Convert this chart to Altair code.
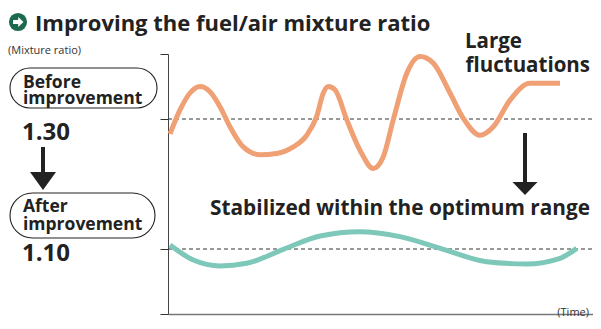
import altair as alt
import pandas as pd

# ---- data ----
before_time = [0.46, 2.78, 5.09, 7.41, 9.72, 12.04, 14.35, 17.43, 21.30, 25.16, 29.00, 32.11,
               34.42, 35.95, 37.11, 38.66, 41.37, 44.44, 47.52, 49.84, 52.15, 55.26, 58.33,
               61.41, 65.28, 68.36, 72.22, 75.30, 79.17, 83.80, 90.74]
before_ratio = [1.277, 1.314, 1.340, 1.350, 1.342, 1.319, 1.288, 1.257, 1.245, 1.247, 1.257, 1.275,
                1.304, 1.340, 1.350, 1.345, 1.299, 1.252, 1.224, 1.242, 1.299, 1.370, 1.396,
                1.386, 1.340, 1.301, 1.275, 1.288, 1.329, 1.355, 1.355]
after_time = [0.46, 5.86, 12.04, 18.22, 26.69, 35.19, 44.44, 53.70, 63.73, 73.77, 83.03, 90.74, 94.61]
after_ratio = [1.106, 1.083, 1.074, 1.078, 1.0995, 1.120, 1.1266, 1.119, 1.0995, 1.0805, 1.077,
               1.0857, 1.101]
reference_levels = [1.30, 1.10]
y_ticks = [1.0, 1.1, 1.3, 1.4]

title_text = "Improving the fuel/air mixture ratio"
y_title = "(Mixture ratio)"
x_title = "(Time)"
before_label = ["Before", "improvement"]
after_label = ["After", "improvement"]
before_value = "1.30"
after_value = "1.10"
large_label = ["Large", "fluctuations"]
stable_label = "Stabilized within the optimum range"

FONT = "Open Sans"
ORANGE = "#EFA074"
TEAL = "#7DC8B9"
DARK = "#222222"

W, H = 425, 260
xs = alt.Scale(domain=[0, 100], range=[0, 432])
ys = alt.Scale(domain=[1.0, 1.4])

before_df = pd.DataFrame({"t": before_time, "r": before_ratio})
after_df = pd.DataFrame({"t": after_time, "r": after_ratio})
ref_df = pd.DataFrame({"r": reference_levels})
one = pd.DataFrame({"a": [0]})

base_axes = alt.Chart(before_df).mark_line(opacity=0).encode(
    x=alt.X("t:Q", scale=xs, axis=alt.Axis(title=None, labels=False, ticks=False, grid=False,
                                             domainColor="#777777", domainWidth=1.5)),
    y=alt.Y("r:Q", scale=ys, axis=alt.Axis(title=None, labels=False, grid=False, values=y_ticks,
                                             tickSize=8, tickColor="#333333", domainColor="#444444",
                                             domainWidth=1, tickWidth=1)),
)

dashed = alt.Chart(ref_df).mark_rule(color="#333333", strokeDash=[4, 3], strokeWidth=1).encode(
    y=alt.Y("r:Q", scale=ys), x=alt.value(0), x2=alt.value(430)
)

line_before = alt.Chart(before_df).mark_line(
    color=ORANGE, strokeWidth=5, interpolate="monotone", strokeCap="butt"
).encode(x=alt.X("t:Q", scale=xs), y=alt.Y("r:Q", scale=ys))

line_after = alt.Chart(after_df).mark_line(
    color=TEAL, strokeWidth=5, interpolate="monotone", strokeCap="butt"
).encode(x=alt.X("t:Q", scale=xs), y=alt.Y("r:Q", scale=ys))


def label(text, x, y, size, weight="bold", color=DARK, align="left"):
    return alt.Chart(one).mark_text(
        text=text, font=FONT, fontSize=size, fontWeight=weight, color=color,
        align=align, baseline="alphabetic"
    ).encode(x=alt.value(x), y=alt.value(y))


def pill(x, x2, y, y2):
    return alt.Chart(one).mark_rect(
        fill="white", stroke="#222222", strokeWidth=1.1, cornerRadius=(y2 - y) / 2
    ).encode(x=alt.value(x), x2=alt.value(x2), y=alt.value(y), y2=alt.value(y2))


def arrow(x, y_top, y_bottom, head_w, head_h, shaft_w=4):
    shaft = alt.Chart(one).mark_rule(color="#222222", strokeWidth=shaft_w).encode(
        x=alt.value(x), y=alt.value(y_top), y2=alt.value(y_bottom - head_h + 1)
    )
    k = head_h / head_w
    head = alt.Chart(one).mark_point(
        shape=f"M-1,-{k:.3f}L1,-{k:.3f}L0,{k:.3f}Z", filled=True, fill="#222222",
        opacity=1, size=head_w * head_w, strokeWidth=0
    ).encode(x=alt.value(x), y=alt.value(y_bottom - head_h / 2))
    return shaft + head


icon_circle = alt.Chart(one).mark_point(
    shape="circle", filled=True, fill="#1C6B4F", opacity=1, size=330, strokeWidth=0
).encode(x=alt.value(-150), y=alt.value(-32))
icon_arrow = alt.Chart(one).mark_point(
    shape="M-0.55,-0.22L0.02,-0.22L0.02,-0.55L0.6,0L0.02,0.55L0.02,0.22L-0.55,0.22Z",
    filled=True, fill="white", opacity=1, size=330, strokeWidth=0
).encode(x=alt.value(-150), y=alt.value(-32))

layers = [
    base_axes, dashed, line_before, line_after,
    icon_circle, icon_arrow,
    label(title_text, -133, -23, 22),
    label(y_title, -160, 0, 11, weight="normal", color="#333333"),
    pill(-158, -11, 14, 54),
    label(before_label[0], -145, 34, 17.5),
    label(before_label[1], -145, 50, 17.5),
    label(before_value, -146, 86, 24),
    arrow(-125, 93, 136, 26, 18),
    pill(-158, -13, 139, 184),
    label(after_label[0], -145, 158, 17.5),
    label(after_label[1], -145, 176, 17.5),
    label(after_value, -146, 207, 24),
    label(large_label[0], 297, -6, 20.5),
    label(large_label[1], 422, 18, 20.5, align="right"),
    arrow(357, 79, 141, 25, 13),
    label(stable_label, 422, 161, 20.8, align="right"),
    label(x_title, 421, 262, 11, weight="normal", color="#333333", align="right"),
]

chart = alt.layer(*layers).properties(
    width=W, height=H,
    autosize=alt.AutoSizeParams(type="none"),
    padding={"left": 160, "top": 46, "right": 0, "bottom": 7},
    background="white",
).configure_view(stroke=None)

chart.save("out.html", embed_options={"renderer": "svg", "actions": False})
